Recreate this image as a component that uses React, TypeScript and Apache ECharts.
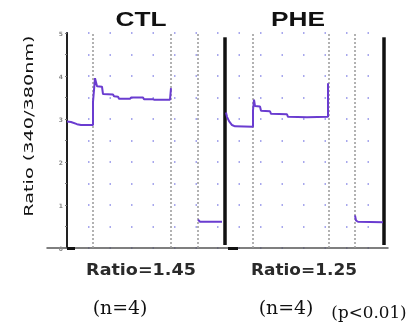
import React, { useEffect, useRef } from 'react';
import * as echarts from 'echarts';

// Traces (time in arbitrary units, ratio 340/380nm); null breaks the trace
const ctlTime = [0, 4, 10, 14, 26, 26, 28, 30, 35, 36, 46, 47, 51, 52, 63, 64, 76, 77, 86, 87, 103, 104, null, 131, 133, 155];
const ctlRatio = [2.94, 2.93, 2.88, 2.86, 2.86, 3.4, 3.95, 3.76, 3.75, 3.58, 3.57, 3.53, 3.52, 3.47, 3.47, 3.5, 3.5, 3.46, 3.46, 3.45, 3.45, 3.72, null, 0.66, 0.61, 0.61];
const pheTime = [159, 160, 162, 165, 168, 186, 186, 187, 188, 193, 194, 203, 204, 220, 221, 240, 261, 261, null, 288, 289, 291, 316];
const pheRatio = [3.15, 3.05, 2.95, 2.86, 2.83, 2.82, 3.2, 3.45, 3.3, 3.29, 3.19, 3.18, 3.12, 3.11, 3.05, 3.04, 3.05, 3.83, null, 0.76, 0.64, 0.61, 0.6];

const eventTimes = [26, 104, 131, 186, 262, 288];
const panelBars = [158, 317];
const barRange = [0.07, 4.9];
const baseMarks = [[0, 8], [161, 171]];

const yTickLabels = ['0', '1', '2', '3', '4', '5'];
const panelTitles = ['CTL', 'PHE'];
const ratioLabels = ['Ratio=1.45', 'Ratio=1.25'];
const nLabels = ['(n=4)', '(n=4)'];
const pLabel = '(p<0.01)';
const yTitle = 'Ratio (340/380nm)';

function segments(ts: (number | null)[], rs: (number | null)[]) {
  const out: number[][][] = [];
  let cur: number[][] = [];
  ts.forEach((t, i) => {
    const r = rs[i];
    if (t === null || r === null) {
      if (cur.length) out.push(cur);
      cur = [];
    } else cur.push([t, r]);
  });
  if (cur.length) out.push(cur);
  return out;
}

export default function App() {
  const ref = useRef<HTMLDivElement>(null);
  useEffect(() => {
    if (!ref.current) return;
    const chart = echarts.init(ref.current, null, { renderer: 'svg' });
    const traceColor = '#6a3cd0';
    const segs = [...segments(ctlTime, ctlRatio), ...segments(pheTime, pheRatio)];
    const series: any[] = segs.map((d) => ({
      type: 'line',
      data: d,
      symbol: 'none',
      lineStyle: { color: traceColor, width: 2 },
      z: 5,
    }));
    series.push({
      type: 'line',
      data: [],
      symbol: 'none',
      z: 3,
      markLine: {
        silent: true,
        symbol: 'none',
        label: { show: false },
        lineStyle: { color: '#999', type: [2, 2], width: 1.5 },
        data: eventTimes.map((t) => ({ xAxis: t })),
      },
    });
    series.push({
      type: 'line',
      data: [],
      symbol: 'none',
      z: 4,
      markLine: {
        silent: true,
        symbol: 'none',
        label: { show: false },
        lineStyle: { color: '#111', type: 'solid', width: 3.5 },
        data: panelBars.map((t) => [{ coord: [t, barRange[0]] }, { coord: [t, barRange[1]] }]),
      },
    });
    series.push({
      type: 'line',
      data: [],
      symbol: 'none',
      z: 4,
      markLine: {
        silent: true,
        symbol: 'none',
        label: { show: false },
        lineStyle: { color: '#111', type: 'solid', width: 3 },
        data: baseMarks.map(([a, b]) => [{ coord: [a, 0] }, { coord: [b, 0] }]),
      },
    });

    const txt = (text: string, x: number, y: number, font: string, fill: string, scaleX = 1, rotation = 0) => ({
      type: 'text',
      x,
      y,
      rotation,
      scaleX,
      style: { text, font, fill, align: 'center', verticalAlign: 'middle' },
    });

    chart.setOption({
      animation: false,
      grid: { left: 47, right: 26, top: 33, bottom: 79 },
      xAxis: {
        type: 'value',
        min: -20,
        max: 321,
        axisLine: { show: true, lineStyle: { color: '#555', width: 1.5 } },
        axisTick: { show: false },
        axisLabel: { show: false },
        splitLine: { show: false },
      },
      yAxis: {
        type: 'value',
        min: 0,
        max: 5,
        interval: 0.5,
        offset: -20,
        axisLine: { show: true, onZero: false, lineStyle: { color: '#222', width: 2 } },
        axisTick: { show: true, length: 2, lineStyle: { color: '#777' } },
        axisLabel: {
          fontSize: 6,
          color: '#888',
          margin: 4,
          fontFamily: 'DejaVu Sans',
          fontWeight: 'bold',
          formatter: (v: number) => (Number.isInteger(v) ? yTickLabels[v] : ''),
        },
        splitLine: {
          show: true,
          lineStyle: { color: '#8c8ce8', width: 1.5, type: [1.5, 20], dashOffset: 1.5 },
        },
      },
      series,
      graphic: [
        txt(yTitle, 29, 126, '13px "DejaVu Sans"', '#111', 1.48, Math.PI / 2),
        txt(panelTitles[0], 141, 18, 'bold 21px "Liberation Sans"', '#111', 1.25),
        txt(panelTitles[1], 298, 18, 'bold 21px "Liberation Sans"', '#111', 1.25),
        txt(ratioLabels[0], 141, 270, 'bold 15px "DejaVu Sans"', '#2a2a2a', 1.17),
        txt(ratioLabels[1], 304, 270, 'bold 15px "DejaVu Sans"', '#2a2a2a', 1.13),
        txt(nLabels[0], 120, 308, '18px "DejaVu Serif"', '#111', 1.05),
        txt(nLabels[1], 286, 308, '18px "DejaVu Serif"', '#111', 1.05),
        txt(pLabel, 369, 313, '16px "DejaVu Serif"', '#111', 1.05),
      ],
    });
    return () => chart.dispose();
  }, []);
  return <div ref={ref} style={{ position: 'fixed', left: 0, top: 0, width: 414, height: 327 }} />;
}
